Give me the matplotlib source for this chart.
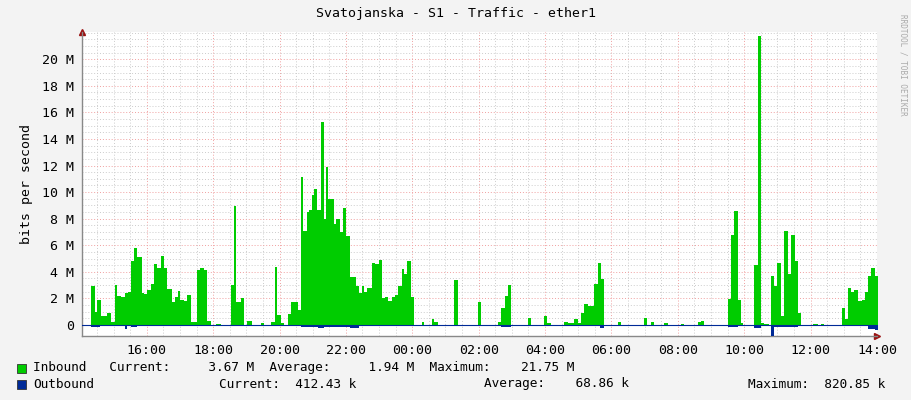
import matplotlib
matplotlib.use("Agg")
import matplotlib.pyplot as plt
import numpy as np

# minutes since 14:00 (segment starts), inbound in Mbit/s
in_t = [20,26,30,38,48,56,62,67,74,80,86,92,97,103,111,115,121,127,133,139,145,151,157,165,171,176,181,187,193,200,
        211,217,223,229,236,246,255,273,278,282,290,296,301,310,326,332,345,351,355,363,369,375,381,387,393,399,403,409,
        414,419,423,427,435,440,444,448,458,463,469,475,480,487,498,504,509,513,519,527,533,539,545,551,557,563,569,575,
        581,585,591,597,603,617,622,635,639,647,676,682,719,724,755,761,767,773,778,809,815,838,844,850,875,881,893,899,
        905,911,917,923,929,935,941,947,971,977,1019,1025,1031,1037,1055,1063,1086,1092,1116,1122,1128,1171,1177,1182,
        1189,1194,1198,1218,1225,1230,1236,1244,1248,1254,1260,1266,1271,1279,1285,1291,1298,1303,1325,1334,1339,1345,
        1376,1382,1388,1393,1399,1405,1412,1418,1424,1430,1436]
inbound = [2.9,1.0,1.9,0.7,0.9,0.25,3.0,2.2,2.1,2.4,2.5,4.8,5.8,5.1,2.4,2.3,2.6,3.1,4.6,4.3,5.2,4.3,2.7,1.75,2.1,2.55,1.9,1.8,2.25,0.2,
           4.1,4.3,4.1,0.3,0,0.07,0,3.0,8.95,1.75,2.05,0,0.3,0,0.17,0,0.25,4.4,0.75,0.17,0,0.8,1.7,1.75,1.1,11.15,7.1,8.5,
           8.65,9.8,10.2,8.65,15.3,7.95,11.9,9.5,7.6,7.95,7.0,8.8,6.7,3.6,2.9,2.4,2.9,2.45,2.8,4.7,4.6,4.9,2.05,2.1,1.8,2.1,2.25,2.9,
           4.2,3.8,4.8,2.1,0,0.22,0,0.45,0.2,0,3.4,0,1.75,0,0.22,1.3,2.2,3.0,0,0.55,0,0.68,0.12,0,0.2,0.12,0.45,0.12,
           0.93,1.6,1.43,1.45,3.1,4.7,3.45,0,0.22,0,0.55,0,0.22,0,0.15,0,0.07,0,0.2,0.3,0,1.95,6.75,8.6,
           1.9,0.17,0,4.5,21.75,0.17,0.07,0,3.7,2.9,4.65,0.68,7.05,3.85,6.75,4.8,0.93,0,0.07,0,0.07,0,
           1.3,0.43,2.8,2.45,2.6,1.8,1.9,2.5,3.65,4.3,3.65]
end_t = 1441

# outbound in Mbit/s (drawn below zero)
out_t = [20,36,60,62,80,84,92,102,110,200,236,273,285,296,399,430,440,487,504,600,724,761,778,929,940,946,
         1171,1189,1218,1230,1248,1254,1298,1376,1424,1436]
outbound = [0.12,0.1,0.0,0.05,0.3,0.05,0.15,0.08,0.05,0.02,0.0,0.1,0.04,0.0,0.15,0.22,0.12,0.2,0.05,0.0,0.0,0.15,0.0,0.05,0.2,0.0,
            0.15,0.0,0.2,0.0,0.82,0.12,0.0,0.1,0.3,0.41]

xticks_min = [120,240,360,480,600,720,840,960,1080,1200,1320,1440]
xtick_labels = ["16:00","18:00","20:00","22:00","00:00","02:00","04:00","06:00","08:00","10:00","12:00","14:00"]
yticks = [0,2,4,6,8,10,12,14,16,18,20]
ytick_labels = ["0","2 M","4 M","6 M","8 M","10 M","12 M","14 M","16 M","18 M","20 M"]

mono = "DejaVu Sans Mono"
plt.rcParams['font.family'] = mono
fig = plt.figure(figsize=(9.11, 4.0), dpi=100, facecolor="#F3F3F3")
ax = fig.add_axes([82/911, 64/400, 795/911, 304/400], facecolor="white")

ti = np.array(in_t + [end_t]); vi = np.array(inbound + [inbound[-1]])
ax.fill_between(ti, 0, vi, step="post", color="#00CC00", lw=0, zorder=3)
to = np.array(out_t + [end_t]); vo = -np.array(outbound + [outbound[-1]])
ax.fill_between(to, 0, vo, step="post", color="#002A97", lw=0, zorder=3)
ax.axhline(0, color="#002A97", lw=0.8, zorder=4)

ax.set_xlim(3, 1440)
ax.set_ylim(-0.83, 22.05)
ax.set_xticks(xticks_min)
ax.set_xticklabels(xtick_labels)
ax.set_xticks(np.arange(30, 1441, 30), minor=True)
ax.set_yticks(yticks)
ax.set_yticklabels(ytick_labels)
ax.set_yticks(np.arange(0, 22.01, 0.5), minor=True)
ax.grid(which="minor", color="#CCCCCC", ls=(0, (1, 2)), lw=0.7, zorder=1)
ax.grid(which="major", color="#F0A0A0", ls=(0, (1, 2)), lw=0.7, zorder=2)
ax.tick_params(which="both", length=0, labelsize=9.5, colors="#000000", pad=6)
for s in ["top", "right"]:
    ax.spines[s].set_visible(False)
for s in ["left", "bottom"]:
    ax.spines[s].set_color("#888888")
    ax.spines[s].set_linewidth(1)
ax.plot(1, 0, ">", transform=ax.transAxes, color="#991111", ms=4, clip_on=False)
ax.plot(0, 1, "^", transform=ax.transAxes, color="#991111", ms=4, clip_on=False)

ax.set_ylabel("bits per second", fontsize=9.5, labelpad=6)
fig.text(0.5, 1 - 14/400, "Svatojanska - S1 - Traffic - ether1", ha="center", va="center", fontsize=9.5)
fig.text(903/911, 1 - 65/400, "RRDTOOL / TOBI OETIKER", rotation=270, ha="center", va="center",
         fontsize=5.5, color="#AAAAAA")

fs = 9.2
def sq(x, y, c):
    fig.patches.append(matplotlib.patches.Rectangle((x/911, 1 - (y + 5)/400), 9/911, 9/400,
                       transform=fig.transFigure, facecolor=c, edgecolor="#333333", lw=0.6))
sq(17, 368, "#00CC00"); sq(17, 384, "#002A97")
y1 = 1 - 368/400; y2 = 1 - 384/400
fig.text(33/911, y1, "Inbound   Current:     3.67 M  Average:     1.94 M  Maximum:    21.75 M", fontsize=fs, va="center")
fig.text(33/911, y2, "Outbound", fontsize=fs, va="center")
fig.text(219/911, y2, "Current:  412.43 k", fontsize=fs, va="center")
fig.text(484/911, y2, "Average:    68.86 k", fontsize=fs, va="center")
fig.text(748/911, y2, "Maximum:  820.85 k", fontsize=fs, va="center")
fig.savefig("out.png", dpi=100, facecolor=fig.get_facecolor())
